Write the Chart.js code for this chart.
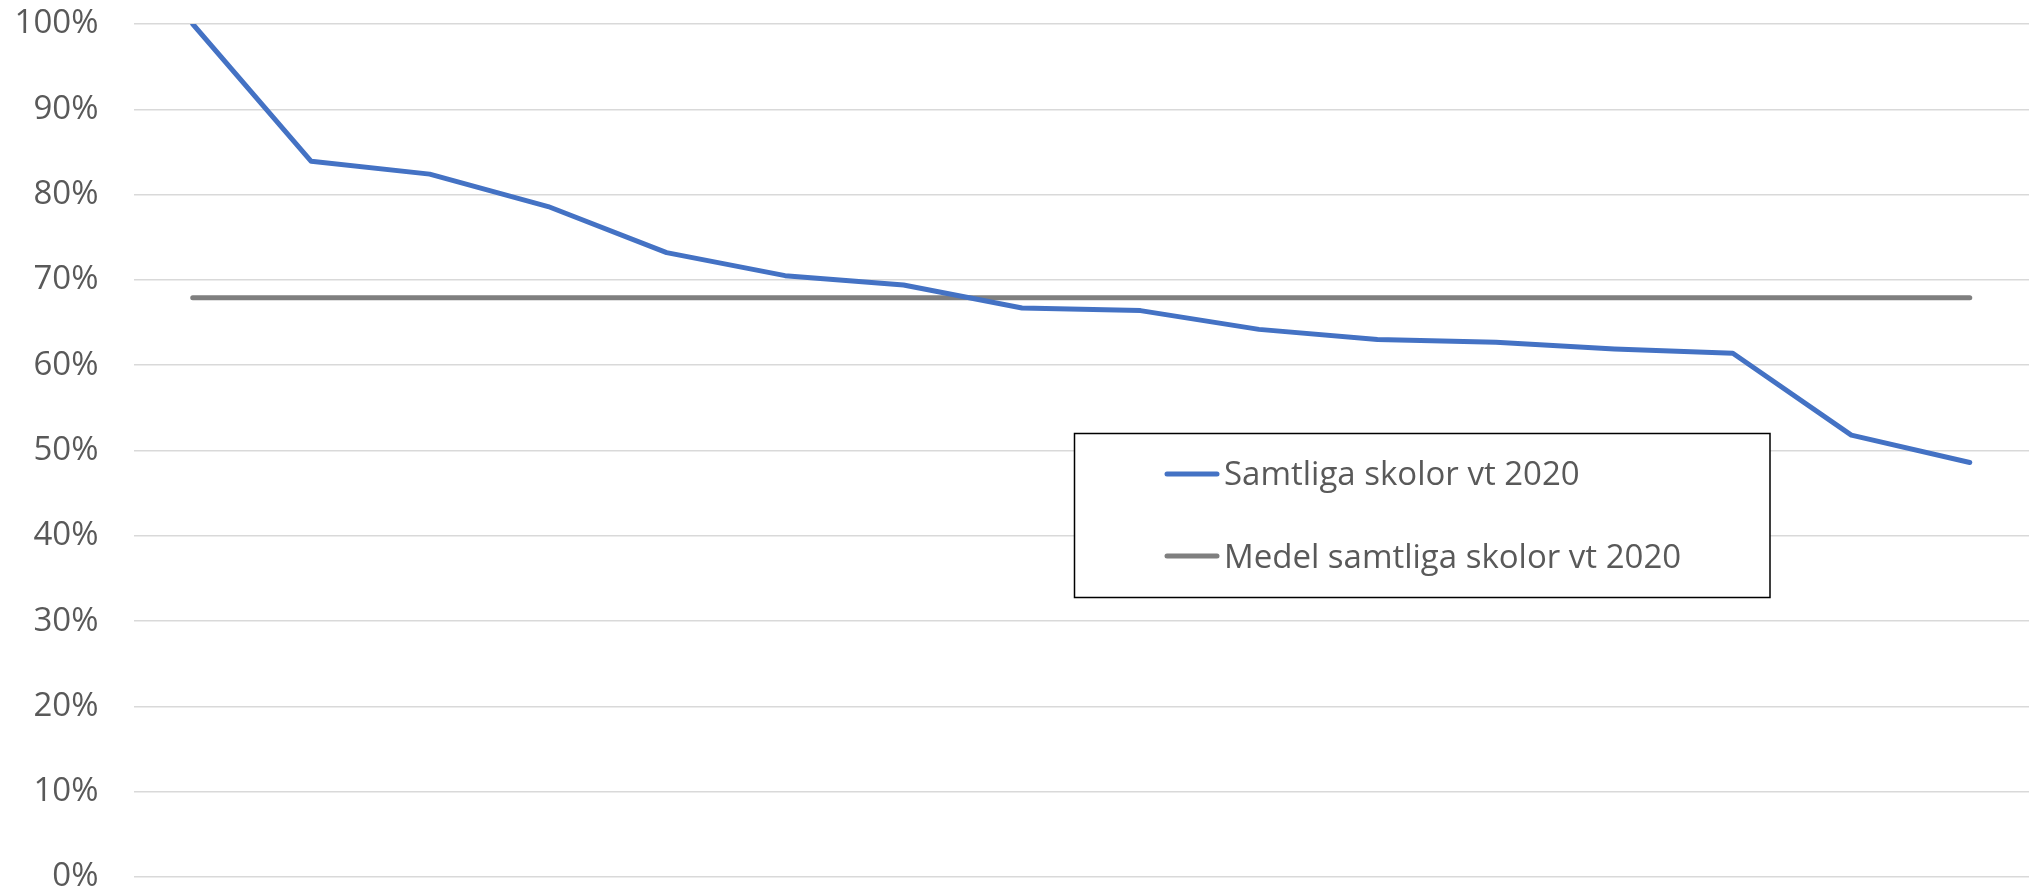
<!DOCTYPE html>
<html>
<head>
<meta charset="utf-8">
<script src="https://cdn.jsdelivr.net/npm/chart.js@4"></script>
<style>
  html, body { margin: 0; padding: 0; background: #fff; }
  #wrap { width: 2030px; height: 892px; position: relative; }
</style>
</head>
<body>
<div id="wrap"><canvas id="c" width="2030" height="892"></canvas></div>
<script>
// ---- data ----
const categories = ["1","2","3","4","5","6","7","8","9","10","11","12","13","14","15","16"];
const seriesSchools = [100, 83.9, 82.4, 78.6, 73.2, 70.5, 69.4, 66.7, 66.4, 64.2, 63.0, 62.7, 61.9, 61.4, 51.8, 48.6];
const seriesAverage = [67.9, 67.9, 67.9, 67.9, 67.9, 67.9, 67.9, 67.9, 67.9, 67.9, 67.9, 67.9, 67.9, 67.9, 67.9, 67.9];
const seriesNames = ["Samtliga skolor vt 2020", "Medel samtliga skolor vt 2020"];
const yTickValues = [0, 10, 20, 30, 40, 50, 60, 70, 80, 90, 100];

const FONT = "'Open Sans', 'Noto Sans', sans-serif";
const TEXT = '#595959';

const boxLegend = {
  id: 'boxLegend',
  afterDatasetsDraw(chart) {
    const ctx = chart.ctx;
    ctx.save();
    ctx.strokeStyle = '#000';
    ctx.lineWidth = 1.5;
    ctx.fillStyle = '#fff';
    ctx.beginPath();
    ctx.rect(1074.5, 433.5, 695.5, 164);
    ctx.fill();
    ctx.stroke();
    const rows = [485, 568];
    const mids = [474, 556];
    chart.data.datasets.forEach((ds, i) => {
      ctx.strokeStyle = ds.borderColor;
      ctx.lineWidth = 5;
      ctx.lineCap = 'round';
      ctx.beginPath();
      ctx.moveTo(1167, mids[i]);
      ctx.lineTo(1217, mids[i]);
      ctx.stroke();
      ctx.fillStyle = TEXT;
      ctx.font = "33px " + FONT;
      ctx.textBaseline = 'alphabetic';
      ctx.textAlign = 'left';
      ctx.fillText(ds.label, 1224, rows[i]);
    });
    ctx.restore();
  }
};

new Chart(document.getElementById('c'), {
  type: 'line',
  data: {
    labels: categories,
    datasets: [
      { label: seriesNames[0], data: seriesSchools, borderColor: '#4472C4', backgroundColor: '#4472C4',
        borderWidth: 5, pointRadius: 0, tension: 0, borderCapStyle: 'round', borderJoinStyle: 'round', fill: false },
      { label: seriesNames[1], data: seriesAverage, borderColor: '#7F7F7F', backgroundColor: '#7F7F7F',
        borderWidth: 5, pointRadius: 0, tension: 0, borderCapStyle: 'round', borderJoinStyle: 'round', fill: false }
    ]
  },
  options: {
    responsive: false,
    animation: false,
    devicePixelRatio: 1,
    layout: { padding: { top: 24, bottom: 15, left: 0, right: 1 } },
    plugins: { legend: { display: false }, tooltip: { enabled: false } },
    scales: {
      x: { display: false, offset: true, grid: { display: false } },
      y: {
        min: 0, max: 100,
        afterBuildTicks(scale) { scale.ticks = yTickValues.map(v => ({ value: v })); },
        afterFit(scale) { scale.width = 133.5; scale.paddingTop = 0; scale.paddingBottom = 0; },
        border: { display: false },
        grid: { color: '#D9D9D9', lineWidth: 1.5, drawTicks: false },
        ticks: {
          padding: 35,
          color: TEXT,
          font: { family: FONT, size: 33, lineHeight: 0.9 },
          callback: v => v + '%'
        }
      }
    }
  },
  plugins: [boxLegend]
});
</script>
</body>
</html>
